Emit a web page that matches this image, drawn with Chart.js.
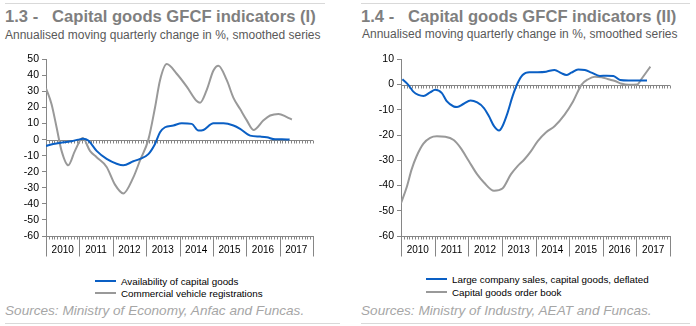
<!DOCTYPE html>
<html>
<head>
<meta charset="utf-8">
<script src="https://cdn.jsdelivr.net/npm/chart.js@4"></script>
<style>
  body { margin: 0; width: 696px; height: 326px; background: #fff; position: relative; overflow: hidden;
         font-family: "Liberation Sans", Arial, sans-serif; }
  .abs { position: absolute; white-space: nowrap; }
  .rule { position: absolute; height: 1px; background: #d9d9d9; }
  .title { font-size: 16.6px; font-weight: bold; color: #7f7f7f; line-height: 20px; }
  .sub { font-size: 12px; color: #595959; line-height: 15px; }
  .leg { font-size: 9.8px; color: #000; line-height: 12px; }
  .leg span { display: inline-block; width: 21px; height: 2px; vertical-align: middle; margin-right: 5px; position: relative; top: -1px; }
  .src { font-size: 13.6px; font-style: italic; color: #a6a6a6; line-height: 16px; }
  canvas { position: absolute; }
</style>
</head>
<body>
<div class="rule" style="left:5px;top:3px;width:320px"></div>
<div class="rule" style="left:361px;top:3px;width:329px"></div>

<div class="abs title" style="left:5px;top:7px">1.3 -&nbsp;&nbsp; Capital goods GFCF indicators (I)</div>
<div class="abs sub" style="left:5px;top:28px">Annualised moving quarterly change in %, smoothed series</div>
<div class="abs title" style="left:361px;top:7px">1.4 -&nbsp;&nbsp; Capital goods GFCF indicators (II)</div>
<div class="abs sub" style="left:362px;top:27px">Annualised moving quarterly change in %, smoothed series</div>

<canvas id="chart13" width="348" height="215" style="left:0;top:50px"></canvas>
<canvas id="chart14" width="348" height="215" style="left:348px;top:50px"></canvas>

<div class="abs leg" style="left:95px;top:276px"><span style="background:#0a5fc4"></span>Availability of capital goods</div>
<div class="abs leg" style="left:95px;top:288px"><span style="background:#999"></span>Commercial vehicle registrations</div>
<div class="abs leg" style="left:426px;top:274px"><span style="background:#0a5fc4"></span>Large company sales, capital goods, deflated</div>
<div class="abs leg" style="left:426px;top:287px"><span style="background:#999"></span>Capital goods order book</div>

<div class="abs src" style="left:5px;top:303px">Sources: Ministry of Economy, Anfac and Funcas.</div>
<div class="abs src" style="left:361px;top:303px">Sources: Ministry of Industry, AEAT and Funcas.</div>

<div class="rule" style="left:5px;top:323px;width:335px"></div>
<div class="rule" style="left:361px;top:323px;width:329px"></div>

<script>
// annees de l'axe, mois comptes depuis janvier 2010
const years = ['2010', '2011', '2012', '2013', '2014', '2015', '2016', '2017'];

// graphique 1.3
const availMonths = [0, 2.6, 6.2, 9.2, 11.6, 13.4, 15.2, 18.2, 21.8, 25.4, 27.8, 31.4, 33.8, 36.8, 39.2, 41, 42.8, 45.8, 48.8, 52.4, 54.8, 56.6, 60.2, 63.8, 67.4, 69.8, 73.4, 77, 79.4, 82.4, 84.8, 87.6];
const availValues = [-4, -2.7, -1.7, -1, 0, 0.5, -0.6, -7, -12, -15, -16, -13.5, -12, -9, -2.7, 4.6, 7.7, 8.8, 10.2, 9.8, 5.6, 6, 10.2, 10.2, 8.8, 6.7, 2.5, 1.9, 1.5, 0.2, 0.2, 0];
const vehicleMonths = [0, 2, 3.8, 5.6, 8, 10.4, 13.2, 15.8, 18.2, 21.8, 24.8, 27.8, 31.4, 33.8, 36.8, 39.2, 41, 43.4, 47, 50.6, 54.2, 55.4, 57.8, 60.2, 62, 65, 67.4, 69.8, 72.2, 74.6, 78.2, 80.6, 83.6, 86.6, 88.4];
const vehicleValues = [32, 22, 7.7, -7, -16, -7, 1, -7, -11, -17, -28, -33.5, -23.5, -13, 0, 20, 37, 47, 41, 33, 24, 23, 31, 43, 46, 37, 26, 19, 12, 6, 12, 15, 16, 14, 12.5];

// graphique 1.4
const salesMonths = [0.5, 2.6, 4.4, 6.2, 8, 10.4, 12.2, 14.6, 16.4, 18.8, 20, 22.4, 24.8, 27.2, 29.6, 31.4, 33.2, 35, 36.2, 38, 39.8, 41.6, 43.4, 45.8, 48.8, 51.8, 54.8, 57.2, 59, 60.8, 63.2, 65.6, 68, 71, 73.4, 75.8, 78.2, 81.2, 84.8, 87.8];
const salesValues = [2.1, -0.1, -2.8, -4.1, -4.5, -3.1, -2.1, -3.4, -6.7, -8.7, -8.9, -7.6, -6.3, -7.1, -9.3, -12.6, -16.5, -18.2, -16.5, -11.3, -4.7, 0.5, 3.8, 4.9, 4.9, 5.1, 5.8, 4.5, 3.8, 4.7, 6, 5.8, 4.7, 3.4, 3.5, 3.4, 1.8, 1.6, 1.6, 1.6];
const orderMonths = [0, 2, 3.8, 5.6, 8, 10.4, 12.8, 15.8, 18.8, 21.2, 24.2, 27.2, 29.6, 33.2, 36.2, 39.2, 41.6, 44, 46.4, 48.8, 51.8, 54.8, 58.4, 61.4, 64.4, 66.8, 69.2, 71.6, 74, 76.4, 78.8, 81.2, 84.2, 86, 89];
const orderValues = [-47, -40.8, -33.6, -28.3, -23.4, -21.1, -20.5, -20.7, -22, -25, -30.3, -35.6, -38.8, -42.1, -41.2, -35.6, -32.3, -29.7, -26.4, -22.4, -18.9, -16.5, -11.9, -6.7, -0.1, 2.1, 3.1, 2.9, 2.1, 1.4, 0.3, -0.1, 0, 2.5, 7.1];

const blue = '#0a5fc4';
const grey = '#999999';
const axisColor = '#868686';

// axe horizontal a zero, graduations mensuelles et separateurs d'annees
const excelAxes = {
    id: 'excelAxes',
    beforeDatasetsDraw(chart) {
        const { ctx, scales: { x, y } } = chart;
        const y0 = Math.round(y.getPixelForValue(0)) + 0.5;
        ctx.save();
        ctx.strokeStyle = axisColor;
        ctx.lineWidth = 1;
        ctx.beginPath();
        ctx.moveTo(x.left, y0);
        ctx.lineTo(x.right, y0);
        for (let m = 0; m <= 96; m++) {
            const px = Math.round(x.getPixelForValue(m)) + 0.5;
            ctx.moveTo(px, y0);
            ctx.lineTo(px, y0 + 3);
        }
        ctx.stroke();
        ctx.restore();
    },
    afterDraw(chart) {
        const { ctx, scales: { x, y } } = chart;
        const yb = Math.round(y.getPixelForValue(-60)) + 0.5;
        ctx.save();
        ctx.strokeStyle = axisColor;
        ctx.lineWidth = 1;
        ctx.beginPath();
        for (let m = 0; m <= 96; m++) {
            const px = Math.round(x.getPixelForValue(m)) + 0.5;
            ctx.moveTo(px, yb);
            ctx.lineTo(px, yb + (m % 12 === 0 ? 20 : 3));
        }
        ctx.stroke();
        ctx.restore();
    }
};

function makeChart(id, series, yMin, yMax, yWidth, padRight) {
    const ctx = document.getElementById(id).getContext('2d');
    return new Chart(ctx, {
        type: 'line',
        data: {
            datasets: series.map(s => ({
                label: s.label,
                data: s.months.map((m, i) => ({ x: m, y: s.values[i] })),
                borderColor: s.color,
                borderWidth: 2,
                pointRadius: 0,
                fill: false,
                cubicInterpolationMode: 'monotone'
            }))
        },
        options: {
            responsive: false,
            animation: false,
            layout: { padding: { top: 9, right: padRight, bottom: 0, left: 0 } },
            plugins: { legend: { display: false }, tooltip: { enabled: false } },
            scales: {
                x: {
                    type: 'linear',
                    min: 0,
                    max: 96,
                    afterBuildTicks: s => { s.ticks = years.map((yr, i) => ({ value: i * 12 + 6 })); },
                    ticks: {
                        autoSkip: false,
                        maxRotation: 0,
                        padding: 8,
                        color: '#000',
                        font: { family: 'Liberation Sans, Arial, sans-serif', size: 10 },
                        callback: (v, i) => years[i]
                    },
                    grid: { display: false, drawTicks: false },
                    border: { display: true, color: axisColor },
                    afterFit: s => { s.height = 29; }
                },
                y: {
                    min: yMin,
                    max: yMax,
                    ticks: {
                        stepSize: 10,
                        padding: 3,
                        color: '#000',
                        font: { family: 'Liberation Sans, Arial, sans-serif', size: 10.5 }
                    },
                    grid: { drawOnChartArea: false, tickLength: 4, color: axisColor },
                    border: { color: axisColor },
                    afterFit: s => { s.width = yWidth; }
                }
            }
        },
        plugins: [excelAxes]
    });
}

makeChart('chart13', [
    { label: 'Availability of capital goods', months: availMonths, values: availValues, color: blue },
    { label: 'Commercial vehicle registrations', months: vehicleMonths, values: vehicleValues, color: grey }
], -60, 50, 46, 35);

makeChart('chart14', [
    { label: 'Large company sales, capital goods, deflated', months: salesMonths, values: salesValues, color: blue },
    { label: 'Capital goods order book', months: orderMonths, values: orderValues, color: grey }
], -60, 10, 53, 26);
</script>
</body>
</html>
